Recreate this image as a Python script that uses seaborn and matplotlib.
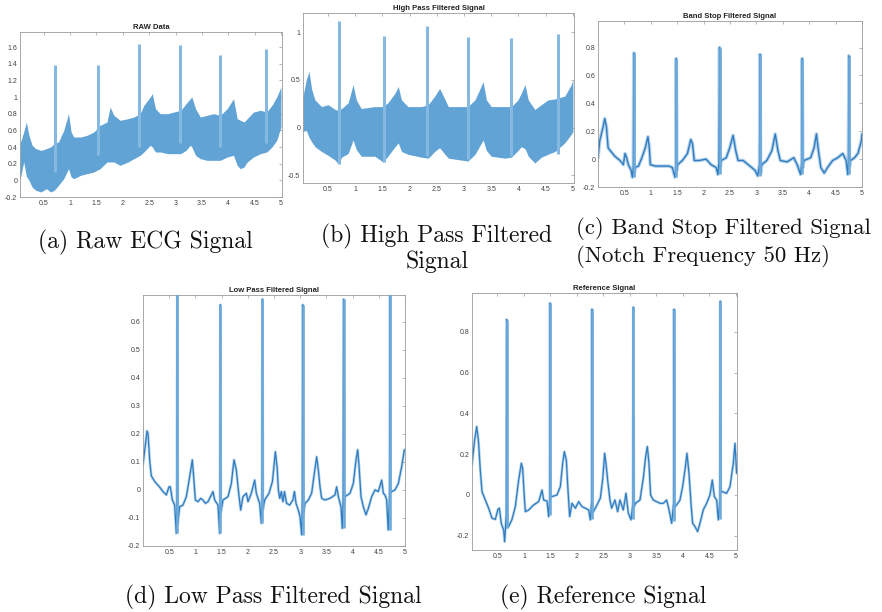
import matplotlib
matplotlib.use("Agg")
import matplotlib.pyplot as plt
import seaborn as sns
import pandas as pd

sns.set_style("white")
plt.rcParams['font.family'] = ['Liberation Sans', 'DejaVu Sans']

# ---------------- data ----------------
XTICKS = [0.5, 1, 1.5, 2, 2.5, 3, 3.5, 4, 4.5, 5]
XTICK_LABELS = ['0.5', '1', '1.5', '2', '2.5', '3', '3.5', '4', '4.5', '5']

# (a) raw ECG: noisy band (upper / lower envelope) + R spikes
RAW_T = [0.05, 0.12, 0.17, 0.22, 0.28, 0.35, 0.45, 0.55, 0.63, 0.70, 0.78, 0.88, 0.97, 1.02, 1.07,
         1.20, 1.32, 1.45, 1.57, 1.70, 1.76, 1.83, 1.95, 2.10, 2.21, 2.33, 2.40, 2.52, 2.56, 2.62,
         2.71, 2.85, 2.97, 3.10, 3.20, 3.28, 3.31, 3.38, 3.47, 3.60, 3.72, 3.85, 3.98, 4.10, 4.17,
         4.23, 4.30, 4.36, 4.48, 4.61, 4.73, 4.83, 4.92, 5.00]
RAW_HI = [0.44, 0.58, 0.70, 0.54, 0.42, 0.38, 0.36, 0.38, 0.40, 0.44, 0.46, 0.60, 0.80, 0.58, 0.52,
          0.52, 0.54, 0.58, 0.66, 0.70, 0.88, 0.78, 0.72, 0.74, 0.76, 0.80, 0.90, 1.00, 1.04, 0.86,
          0.80, 0.80, 0.82, 0.84, 0.92, 0.98, 1.00, 0.86, 0.76, 0.78, 0.80, 0.78, 0.86, 0.98, 0.74,
          0.72, 0.70, 0.74, 0.82, 0.84, 0.82, 0.90, 1.00, 1.12]
RAW_LO = [0.00, 0.22, 0.05, 0.00, -0.08, -0.12, -0.14, -0.10, -0.14, -0.12, -0.06, 0.02, 0.14, 0.04, 0.02,
          0.06, 0.08, 0.10, 0.14, 0.22, 0.22, 0.22, 0.18, 0.22, 0.26, 0.30, 0.34, 0.42, 0.40, 0.34,
          0.34, 0.32, 0.32, 0.32, 0.36, 0.42, 0.40, 0.30, 0.26, 0.24, 0.24, 0.24, 0.28, 0.30, 0.18,
          0.14, 0.16, 0.22, 0.28, 0.32, 0.34, 0.40, 0.48, 0.64]
RAW_SPIKE_T = [0.71, 1.53, 2.31, 3.08, 3.85, 4.72]
RAW_SPIKE_BASE = [0.10, 0.30, 0.40, 0.45, 0.40, 0.45]
RAW_SPIKE_PEAK = [1.38, 1.38, 1.63, 1.62, 1.50, 1.58]

# (b) high pass filtered: noisy band + spikes
HP_T = [0.04, 0.10, 0.15, 0.20, 0.26, 0.38, 0.50, 0.63, 0.69, 0.75, 0.87, 0.96, 1.02, 1.11, 1.36,
        1.51, 1.60, 1.73, 1.79, 1.85, 1.97, 2.22, 2.34, 2.46, 2.55, 2.62, 2.71, 2.95, 3.07, 3.20,
        3.35, 3.41, 3.50, 3.75, 3.87, 3.99, 4.05, 4.12, 4.18, 4.30, 4.42, 4.54, 4.67, 4.85, 4.97, 5.00]
HP_HI = [0.33, 0.50, 0.59, 0.40, 0.29, 0.22, 0.24, 0.19, 0.18, 0.20, 0.26, 0.45, 0.29, 0.20, 0.22,
         0.22, 0.26, 0.36, 0.43, 0.29, 0.22, 0.22, 0.24, 0.33, 0.41, 0.33, 0.22, 0.22, 0.22, 0.29,
         0.48, 0.29, 0.22, 0.22, 0.22, 0.29, 0.36, 0.45, 0.29, 0.19, 0.24, 0.29, 0.30, 0.33, 0.45, 0.50]
HP_LO = [-0.04, -0.03, -0.10, -0.15, -0.20, -0.25, -0.29, -0.34, -0.38, -0.31, -0.27, -0.13, -0.23, -0.30, -0.30,
         -0.36, -0.30, -0.20, -0.16, -0.25, -0.28, -0.31, -0.32, -0.25, -0.21, -0.26, -0.32, -0.34, -0.35, -0.28,
         -0.13, -0.24, -0.30, -0.32, -0.31, -0.24, -0.20, -0.22, -0.30, -0.37, -0.31, -0.28, -0.25, -0.16, -0.07, -0.04]
HP_SPIKE_T = [0.70, 1.53, 2.31, 3.07, 3.86, 4.73]
HP_SPIKE_BASE = [-0.38, -0.36, -0.30, -0.33, -0.30, -0.28]
HP_SPIKE_PEAK = [1.12, 0.96, 1.06, 0.95, 0.94, 0.98]

# (c) band stop filtered (notch 50 Hz)
BS_T = [0.000, 0.032, 0.064, 0.096, 0.128, 0.160, 0.192, 0.256, 0.320, 0.416, 0.480, 0.512, 0.543, 0.575,
        0.627, 0.652, 0.670, 0.678, 0.688, 0.703, 0.767, 0.831, 0.895, 0.946, 0.972, 0.991, 1.087, 1.215,
        1.343, 1.407, 1.458, 1.475, 1.483, 1.493, 1.509, 1.598, 1.694, 1.758, 1.790, 1.822, 1.918, 2.046,
        2.142, 2.238, 2.270, 2.292, 2.302, 2.312, 2.334, 2.430, 2.494, 2.558, 2.609, 2.653, 2.749, 2.877,
        2.973, 3.024, 3.060, 3.069, 3.080, 3.101, 3.197, 3.293, 3.357, 3.408, 3.453, 3.581, 3.708, 3.772,
        3.836, 3.858, 3.868, 3.878, 3.900, 4.028, 4.092, 4.137, 4.175, 4.220, 4.284, 4.348, 4.444, 4.540,
        4.636, 4.700, 4.731, 4.743, 4.751, 4.762, 4.783, 4.859, 4.923, 4.987, 5.000]
BS_V = [0.01, 0.13, 0.18, 0.23, 0.29, 0.23, 0.08, 0.05, 0.02, -0.01, -0.04, 0.04, 0.01, -0.04,
        -0.08, -0.13, -0.05, 0.76, -0.10, -0.06, -0.05, 0.01, 0.08, 0.16, 0.08, -0.04, -0.05, -0.05,
        -0.05, -0.06, -0.13, -0.04, 0.72, -0.08, -0.04, -0.01, 0.04, 0.14, 0.11, -0.01, -0.01, 0.00,
        -0.04, -0.06, -0.11, -0.03, 0.80, -0.06, -0.01, 0.01, 0.08, 0.17, 0.06, -0.01, -0.01, -0.05,
        -0.08, -0.12, -0.04, 0.75, -0.10, -0.04, -0.01, 0.06, 0.18, 0.06, -0.01, -0.02, 0.01, -0.04,
        -0.11, -0.03, 0.72, -0.06, -0.01, 0.01, 0.08, 0.18, 0.06, -0.06, -0.10, -0.06, -0.01, 0.01,
        0.04, -0.01, -0.11, -0.03, 0.74, -0.05, -0.01, 0.01, 0.04, 0.13, 0.18]
BS_SPIKE_T = [0.678, 1.483, 2.302, 3.069, 3.868, 4.751]
BS_SPIKE_LO = [-0.13, -0.13, -0.11, -0.12, -0.11, -0.11]
BS_SPIKE_HI = [0.76, 0.72, 0.80, 0.75, 0.72, 0.74]

# (d) low pass filtered
LP_T = [0.000, 0.032, 0.076, 0.096, 0.130, 0.159, 0.223, 0.318, 0.382, 0.445, 0.496, 0.522, 0.560, 0.604,
        0.636, 0.646, 0.655, 0.664, 0.700, 0.763, 0.827, 0.891, 0.941, 0.967, 0.999, 1.050, 1.100, 1.145,
        1.190, 1.240, 1.336, 1.368, 1.431, 1.463, 1.470, 1.476, 1.485, 1.527, 1.622, 1.686, 1.737, 1.781,
        1.826, 1.864, 1.908, 1.972, 2.004, 2.067, 2.131, 2.163, 2.226, 2.258, 2.270, 2.280, 2.289, 2.322,
        2.405, 2.470, 2.526, 2.560, 2.583, 2.610, 2.640, 2.670, 2.700, 2.740, 2.800, 2.860, 2.890, 2.920,
        2.964, 2.996, 3.028, 3.040, 3.050, 3.060, 3.092, 3.155, 3.218, 3.270, 3.314, 3.346, 3.378, 3.410,
        3.473, 3.568, 3.664, 3.696, 3.728, 3.778, 3.803, 3.820, 3.828, 3.838, 3.855, 3.950, 4.014, 4.065,
        4.097, 4.128, 4.160, 4.205, 4.256, 4.300, 4.364, 4.427, 4.491, 4.555, 4.587, 4.618, 4.650, 4.680,
        4.705, 4.715, 4.725, 4.746, 4.809, 4.873, 4.937, 4.987, 5.000]
LP_V = [0.09, 0.14, 0.21, 0.20, 0.10, 0.05, 0.03, 0.01, -0.006, -0.018, 0.011, 0.011, -0.036, -0.054,
        -0.155, -0.03, 0.72, -0.12, -0.06, -0.054, -0.024, 0.047, 0.107, 0.047, -0.036, -0.042, -0.030, -0.036,
        -0.048, -0.042, -0.006, -0.036, -0.054, -0.155, -0.03, 0.66, -0.08, -0.036, -0.024, 0.023, 0.107, 0.071,
        -0.012, -0.072, -0.024, -0.012, -0.042, -0.012, 0.035, -0.012, -0.048, -0.119, -0.03, 0.68, -0.07, -0.036,
        -0.012, 0.03, 0.136, 0.08, 0.0, -0.03, -0.006, -0.042, -0.006, -0.048, -0.054, -0.036, -0.006, -0.048,
        -0.072, -0.095, -0.16, -0.04, 0.66, -0.09, -0.048, -0.036, -0.012, 0.059, 0.118, 0.071, 0.011, -0.03,
        -0.036, -0.03, -0.018, 0.011, -0.024, -0.06, -0.137, -0.03, 0.68, -0.06, -0.024, -0.012, 0.023, 0.107,
        0.143, 0.071, -0.024, -0.06, -0.089, -0.066, -0.024, 0.0, -0.006, 0.035, -0.012, -0.018, -0.036, -0.143,
        -0.02, 0.72, -0.01, -0.006, 0.0, 0.023, 0.083, 0.143, 0.14]
LP_SPIKE_T = [0.655, 1.476, 2.280, 3.050, 3.828, 4.715]
LP_SPIKE_LO = [-0.155, -0.155, -0.119, -0.16, -0.137, -0.143]
LP_SPIKE_HI = [0.72, 0.66, 0.68, 0.66, 0.68, 0.72]

# (e) reference signal
REF_T = [0.020, 0.070, 0.108, 0.140, 0.177, 0.209, 0.271, 0.334, 0.397, 0.460, 0.510, 0.536, 0.573, 0.617,
         0.636, 0.667, 0.674, 0.684, 0.712, 0.775, 0.838, 0.900, 0.951, 0.976, 1.007, 1.026, 1.089, 1.183,
         1.278, 1.341, 1.372, 1.435, 1.467, 1.485, 1.492, 1.501, 1.530, 1.624, 1.687, 1.731, 1.762, 1.800,
         1.831, 1.863, 1.907, 1.970, 2.033, 2.095, 2.158, 2.221, 2.253, 2.277, 2.284, 2.294, 2.347, 2.441,
         2.485, 2.523, 2.550, 2.579, 2.623, 2.655, 2.717, 2.768, 2.812, 2.875, 2.925, 2.970, 3.020, 3.057,
         3.064, 3.074, 3.108, 3.189, 3.252, 3.296, 3.328, 3.359, 3.390, 3.441, 3.504, 3.567, 3.630, 3.693,
         3.737, 3.787, 3.824, 3.831, 3.841, 3.881, 3.944, 3.994, 4.039, 4.076, 4.114, 4.152, 4.183, 4.227,
         4.277, 4.321, 4.384, 4.447, 4.510, 4.554, 4.592, 4.636, 4.667, 4.698, 4.705, 4.715, 4.743, 4.825,
         4.888, 4.950, 4.982, 5.013]
REF_V = [0.15, 0.27, 0.335, 0.27, 0.12, 0.016, -0.025, -0.065, -0.114, -0.12, -0.07, -0.065, -0.14, -0.172,
         -0.229, -0.10, 0.86, -0.16, -0.155, -0.12, -0.057, 0.073, 0.155, 0.13, -0.008, -0.082, -0.074, -0.049,
         -0.033, 0.024, -0.025, -0.03, -0.106, -0.02, 0.94, -0.01, -0.008, 0.0, 0.041, 0.155, 0.212, 0.17,
         0.024, -0.106, -0.041, -0.065, -0.033, -0.057, -0.065, -0.074, -0.122, -0.03, 0.91, -0.09, -0.065, -0.016,
         0.073, 0.204, 0.15, 0.073, -0.025, -0.065, -0.025, -0.082, -0.025, -0.074, 0.008, -0.09, -0.122, -0.04,
         0.92, -0.06, -0.04, -0.025, 0.081, 0.188, 0.237, 0.155, 0.0, -0.025, -0.033, -0.041, -0.041, -0.025,
         -0.073, -0.139, -0.04, 0.91, -0.06, -0.049, -0.025, 0.041, 0.123, 0.204, 0.106, -0.041, -0.139, -0.155,
         -0.18, -0.139, -0.073, -0.041, 0.0, 0.073, -0.008, -0.025, -0.122, -0.02, 0.95, 0.02, 0.016, 0.008,
         0.041, 0.155, 0.253, 0.106]
REF_SPIKE_T = [0.674, 1.492, 2.284, 3.064, 3.831, 4.705]
REF_SPIKE_LO = [-0.16, -0.10, -0.12, -0.12, -0.13, -0.12]
REF_SPIKE_HI = [0.86, 0.94, 0.91, 0.92, 0.91, 0.95]

# ---------------- styling ----------------
LINE = '#2f7cc0'
HALO = '#5e9fd3'
BAND = '#62a3d6'
SPIKE = '#6eaadb'
GRAYAX = '#9a9a9a'

fig = plt.figure(figsize=(8.82, 6.12), dpi=100)


def px_axes(l, t, r, b):
    return fig.add_axes([l / 882, 1 - b / 612, (r - l) / 882, (b - t) / 612])


def style(ax, title, xlim, ylim, yticks, ylabels):
    ax.set_xlim(xlim)
    ax.set_ylim(ylim)
    ax.set_xticks(XTICKS)
    ax.set_xticklabels(XTICK_LABELS)
    ax.set_yticks(yticks)
    ax.set_yticklabels(ylabels)
    ax.tick_params(direction='in', top=True, right=True, length=2.5, width=0.5,
                   color=GRAYAX, labelsize=5, labelcolor='#404040', pad=2)
    for s in ax.spines.values():
        s.set_visible(True)
        s.set_color(GRAYAX)
        s.set_linewidth(0.6)
    ax.set_title(title, fontsize=5.5, fontweight='bold', pad=2, color='#222222')
    ax.set_xlabel('')
    ax.set_ylabel('')


def trace(ax, t, v, halo_lw, core_lw, st, slo, shi):
    df = pd.DataFrame({'t': t, 'v': v})
    sns.lineplot(data=df, x='t', y='v', ax=ax, color=HALO, lw=halo_lw,
                 sort=False, estimator=None, alpha=0.45, zorder=1)
    sns.lineplot(data=df, x='t', y='v', ax=ax, color=LINE, lw=core_lw,
                 sort=False, estimator=None, zorder=2)
    ax.vlines(st, slo, shi, color=SPIKE, lw=1.9, zorder=3)


# (a)
axa = px_axes(20, 32, 282, 197)
axa.fill_between(RAW_T, RAW_LO, RAW_HI, color=BAND, lw=0)
axa.vlines(RAW_SPIKE_T, RAW_SPIKE_BASE, RAW_SPIKE_PEAK, color='#86b9e2', lw=2.2)
style(axa, 'RAW Data', (0.05, 5.02), (-0.2, 1.78),
      [-0.2, 0, 0.2, 0.4, 0.6, 0.8, 1, 1.2, 1.4, 1.6],
      ['-0.2', '0', '0.2', '0.4', '0.6', '0.8', '1', '1.2', '1.4', '1.6'])

# (b)
axb = px_axes(303, 13, 574, 183)
axb.fill_between(HP_T, HP_LO, HP_HI, color=BAND, lw=0)
axb.vlines(HP_SPIKE_T, HP_SPIKE_BASE, HP_SPIKE_PEAK, color='#86b9e2', lw=2.2)
style(axb, 'High Pass Filtered Signal', (0.04, 5.02), (-0.58, 1.2),
      [-0.5, 0, 0.5, 1], ['-0.5', '0', '0.5', '1'])

# (c)
axc = px_axes(598, 21, 862, 187)
trace(axc, BS_T, BS_V, 2.6, 1.0, BS_SPIKE_T, BS_SPIKE_LO, BS_SPIKE_HI)
style(axc, 'Band Stop Filtered Signal', (0.0, 5.0), (-0.2, 0.99),
      [-0.2, 0, 0.2, 0.4, 0.6, 0.8], ['-0.2', '0', '0.2', '0.4', '0.6', '0.8'])

# (d)
axd = px_axes(143, 295, 405, 546)
trace(axd, LP_T, LP_V, 2.0, 0.9, LP_SPIKE_T, LP_SPIKE_LO, LP_SPIKE_HI)
style(axd, 'Low Pass Filtered Signal', (0.0, 5.0), (-0.2, 0.695),
      [-0.2, -0.1, 0, 0.1, 0.2, 0.3, 0.4, 0.5, 0.6],
      ['-0.2', '-0.1', '0', '0.1', '0.2', '0.3', '0.4', '0.5', '0.6'])

# (e)
axe = px_axes(472, 293, 737, 550)
trace(axe, REF_T, REF_V, 2.0, 0.9, REF_SPIKE_T, REF_SPIKE_LO, REF_SPIKE_HI)
style(axe, 'Reference Signal', (0.02, 5.02), (-0.27, 0.99),
      [-0.2, 0, 0.2, 0.4, 0.6, 0.8], ['-0.2', '0', '0.2', '0.4', '0.6', '0.8'])

# captions
cap = dict(fontfamily='cmr10', fontsize=17, color='#111111', va='center')
fig.text(145 / 882, 1 - 242 / 612, '(a) Raw ECG Signal', ha='center', **cap)
fig.text(437 / 882, 1 - 236 / 612, '(b) High Pass Filtered', ha='center', **cap)
fig.text(437 / 882, 1 - 262 / 612, 'Signal', ha='center', **cap)
cap_c = dict(cap, fontsize=16.4)
fig.text(576 / 882, 1 - 228 / 612, '(c) Band Stop Filtered Signal', ha='left', **cap_c)
fig.text(576 / 882, 1 - 256 / 612, '(Notch Frequency 50 Hz)', ha='left', **cap_c)
fig.text(273 / 882, 1 - 597 / 612, '(d) Low Pass Filtered Signal', ha='center', **cap)
fig.text(603 / 882, 1 - 597 / 612, '(e) Reference Signal', ha='center', **cap)

fig.savefig('out.png', dpi=100)
